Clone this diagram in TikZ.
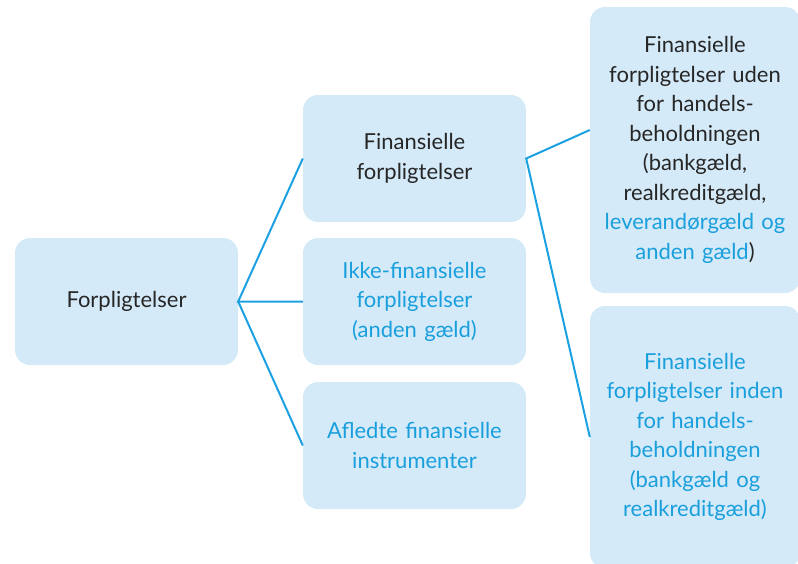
\documentclass[tikz,border=0pt]{standalone}
\usepackage{fontspec}
\setmainfont{Lato}
\definecolor{boxfill}{HTML}{D5EAF8}
\definecolor{linec}{HTML}{1BA1E2}
\definecolor{txtblue}{HTML}{1A9FDD}
\definecolor{txtdark}{HTML}{262626}
\tikzset{
  box/.style={fill=boxfill, rounded corners=15pt, inner sep=0pt, align=center,
    font=\fontsize{22}{29.5}\selectfont, text=txtdark},
  midbox/.style={box, minimum width=223pt, minimum height=127pt, text width=220pt},
  bigbox/.style={box, minimum width=210pt, text width=210pt},
  conn/.style={draw=linec, line width=2pt},
}
\begin{document}
\begin{tikzpicture}[x=1pt,y=-1pt]
\useasboundingbox (0,0) rectangle (798,563);
\clip (0,0) rectangle (798,563);
\node[midbox] (root) at (126.5,301.5) {Forpligtelser};
\node[midbox] (fin) at (414.5,158.5) {Finansielle\\forpligtelser};
\node[midbox, text=txtblue] (ikke) at (414.5,301.5) {Ikke-finansielle\\forpligtelser\\(anden gæld)};
\node[midbox, text=txtblue] (afl) at (414.5,445.5) {Afledte finansielle\\instrumenter};
\node[bigbox, minimum height=286pt] (uden) at (695,150) {Finansielle\\forpligtelser uden\\for handels-\\beholdningen\\(bankgæld,\\realkreditgæld,\\{\color{txtblue}leverandørgæld og}\\{\color{txtblue}anden gæld})};
\node[bigbox, minimum height=262pt, text=txtblue] (inden) at (695,437) {Finansielle\\forpligtelser inden\\for handels-\\beholdningen\\(bankgæld og\\realkreditgæld)};
\coordinate (udenin) at ([yshift=20pt]uden.west);
\draw[conn] (fin.west) -- (root.east) -- (ikke.west);
\draw[conn] (root.east) -- (afl.west);
\draw[conn] (udenin) -- (fin.east) -- (inden.west);
\end{tikzpicture}
\end{document}
